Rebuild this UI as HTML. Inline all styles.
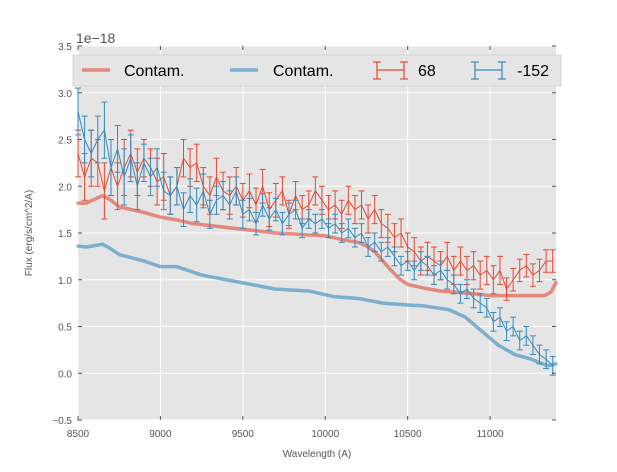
<!DOCTYPE html>
<html><head><meta charset="utf-8"><style>
body{margin:0;background:#fff;font-family:"Liberation Sans","DejaVu Sans",sans-serif}
</style></head><body>
<svg id="chart" width="617" height="467" xmlns="http://www.w3.org/2000/svg" font-family="Liberation Sans, DejaVu Sans, sans-serif">
<rect x="78" y="46" width="478" height="374" fill="#e5e5e5"/>
<g id="grid"></g>
<g id="series"></g>
<g id="axes"></g>
<text x="76" y="43" font-size="14" fill="#555">1e−18</text>
<text transform="translate(32,233) rotate(-90)" font-size="10" fill="#555" text-anchor="middle">Flux (erg/s/cm^2/A)</text>
<text x="317" y="457" font-size="10" fill="#555" text-anchor="middle">Wavelength (A)</text>
<g>
<rect x="73" y="55" width="488" height="31" fill="#e5e5e5" stroke="#d0d0d0" stroke-width="0.8"/>
<g><line x1="82" y1="70" x2="110" y2="70" stroke="#E24A33" stroke-opacity="0.6" stroke-width="3.5"/><text x="124" y="76" font-size="16">Contam.</text></g>
<g><line x1="230" y1="70" x2="258" y2="70" stroke="#348ABD" stroke-opacity="0.6" stroke-width="3.5"/><text x="273" y="76" font-size="16">Contam.</text></g>
<g stroke="#E24A33" stroke-width="1.2"><line x1="377" y1="70" x2="404" y2="70"/><line x1="377" y1="62" x2="377" y2="79"/><line x1="404" y1="62" x2="404" y2="79"/><line x1="373" y1="62" x2="381" y2="62"/><line x1="373" y1="79" x2="381" y2="79"/><line x1="400" y1="62" x2="408" y2="62"/><line x1="400" y1="79" x2="408" y2="79"/><text x="418" y="76" font-size="16" fill="#000" stroke="none">68</text></g>
<g stroke="#348ABD" stroke-width="1.2"><line x1="475" y1="70" x2="502" y2="70"/><line x1="475" y1="62" x2="475" y2="79"/><line x1="502" y1="62" x2="502" y2="79"/><line x1="471" y1="62" x2="479" y2="62"/><line x1="471" y1="79" x2="479" y2="79"/><line x1="498" y1="62" x2="506" y2="62"/><line x1="498" y1="79" x2="506" y2="79"/><text x="517" y="76" font-size="16" fill="#000" stroke="none">-152</text></g>
</g>
</svg>
<script>
const xTicks=[8500,9000,9500,10000,10500,11000];
const yTicks=[-0.5,0,0.5,1.0,1.5,2.0,2.5,3.0,3.5];
const yTickLabels=["−0.5","0.0","0.5","1.0","1.5","2.0","2.5","3.0","3.5"];
const wlStart=8500, wlStep=40;
const red68=[2.35,2.1,2.3,2.25,1.95,2.2,2.0,2.2,2.35,2.15,2.3,2.2,2.05,2.1,1.9,2.0,2.3,2.2,2.25,2.0,1.9,2.1,1.95,1.9,2.0,1.85,1.95,1.8,2.0,1.75,1.85,1.95,1.7,1.9,1.75,1.8,1.95,1.85,1.75,1.8,1.7,1.85,1.75,1.8,1.65,1.75,1.6,1.55,1.45,1.5,1.35,1.3,1.2,1.25,1.2,1.15,1.25,1.1,1.2,1.1,1.15,1.05,1.1,1.0,1.1,0.9,1.0,1.1,1.15,1.05,1.1,1.2,1.2];
const redErr=[0.25,0.25,0.3,0.25,0.3,0.3,0.25,0.3,0.25,0.25,0.2,0.2,0.25,0.25,0.2,0.2,0.2,0.2,0.2,0.2,0.2,0.2,0.2,0.2,0.2,0.18,0.18,0.18,0.18,0.18,0.18,0.15,0.15,0.15,0.15,0.15,0.15,0.15,0.15,0.15,0.15,0.15,0.15,0.15,0.15,0.15,0.15,0.15,0.15,0.15,0.15,0.15,0.15,0.15,0.15,0.15,0.15,0.15,0.15,0.15,0.15,0.15,0.15,0.15,0.15,0.12,0.12,0.12,0.12,0.12,0.12,0.12,0.12];
const blue152=[2.8,2.5,2.35,2.5,2.6,2.2,2.4,2.1,2.3,2.0,2.25,2.1,2.2,1.95,1.9,2.0,1.75,1.9,1.8,1.95,1.7,1.85,1.9,1.8,1.95,1.7,1.75,1.6,1.8,1.65,1.75,1.6,1.7,1.75,1.55,1.65,1.6,1.65,1.55,1.6,1.5,1.55,1.45,1.5,1.35,1.4,1.3,1.35,1.25,1.15,1.2,1.1,1.2,1.15,1.05,1.1,1.0,0.95,0.85,0.9,0.8,0.75,0.7,0.55,0.6,0.45,0.5,0.35,0.4,0.3,0.2,0.15,0.08];
const blueErr=[0.25,0.25,0.25,0.25,0.3,0.3,0.25,0.3,0.25,0.25,0.2,0.2,0.2,0.2,0.2,0.2,0.18,0.18,0.18,0.18,0.15,0.15,0.15,0.15,0.15,0.15,0.12,0.12,0.12,0.12,0.12,0.12,0.12,0.1,0.1,0.1,0.1,0.1,0.1,0.1,0.1,0.1,0.1,0.1,0.1,0.1,0.1,0.1,0.1,0.1,0.1,0.1,0.1,0.1,0.1,0.1,0.1,0.1,0.1,0.1,0.1,0.1,0.1,0.1,0.1,0.1,0.1,0.1,0.1,0.1,0.1,0.1,0.1];
const contamWl=[8500,8550,8600,8650,8700,8750,8900,9000,9100,9200,9450,9700,10000,10100,10200,10250,10300,10350,10400,10450,10500,10600,10700,10900,11000,11200,11330,11370,11400];
const redContam=[1.82,1.82,1.86,1.9,1.85,1.78,1.72,1.67,1.64,1.6,1.55,1.5,1.47,1.43,1.4,1.36,1.3,1.2,1.1,1.01,0.95,0.91,0.88,0.85,0.83,0.83,0.83,0.87,0.97];
const blueContamWl=[8500,8550,8650,8700,8750,8900,9000,9100,9250,9400,9550,9700,9900,10050,10200,10350,10500,10600,10750,10850,10950,11050,11150,11250,11350,11400];
const blueContam=[1.36,1.35,1.38,1.33,1.27,1.2,1.14,1.14,1.05,1.0,0.95,0.9,0.88,0.82,0.8,0.75,0.73,0.72,0.68,0.6,0.45,0.3,0.2,0.15,0.08,0.1];
const X0=78,X1=556,Y0=420,Y1=46;
const xS=v=>X0+(v-8500)*(X1-X0)/(11400-8500);
const yS=v=>Y0-(v+0.5)*(Y0-Y1)/4;
const NS="http://www.w3.org/2000/svg";
function mk(tag,attrs,parent){const e=document.createElementNS(NS,tag);for(const k in attrs)e.setAttribute(k,attrs[k]);parent.appendChild(e);return e;}
const grid=document.getElementById('grid'),axes=document.getElementById('axes'),ser=document.getElementById('series');
xTicks.forEach(t=>{const x=xS(t);
 const g=mk('line',{x1:x,x2:x,y1:Y1,y2:Y0,stroke:'#fff','stroke-width':1},grid);
 
 
 mk('line',{x1:x,x2:x,y1:Y0,y2:Y0-4,stroke:'#555'},axes);
 mk('line',{x1:x,x2:x,y1:Y1,y2:Y1+4,stroke:'#555'},axes);
 const l=mk('text',{x:x,y:Y0+17,'font-size':10,fill:'#555','text-anchor':'middle'},axes);l.textContent=t;
 
 
});
yTicks.forEach((t,i)=>{const y=yS(t);
 const g=mk('line',{x1:X0,x2:X1,y1:y,y2:y,stroke:'#fff','stroke-width':1},grid);
 
 
 mk('line',{x1:X0,x2:X0+4,y1:y,y2:y,stroke:'#555'},axes);
 mk('line',{x1:X1,x2:X1-4,y1:y,y2:y,stroke:'#555'},axes);
 const l=mk('text',{x:X0-6,y:y+4,'font-size':10,fill:'#555','text-anchor':'end'},axes);l.textContent=yTickLabels[i];
 
 
});
function line(xs,ys,color,w,op,name){
 const p=mk('polyline',{points:xs.map((x,i)=>xS(x)+','+yS(ys[i])).join(' '),fill:'none',stroke:color,'stroke-width':w,'stroke-opacity':op,'stroke-linejoin':'round','stroke-linecap':'round'},ser);
 
 
}
line(contamWl,redContam,'#E24A33',3.5,0.6,'red-contam-line');
line(blueContamWl,blueContam,'#348ABD',3.5,0.6,'blue-contam-line');
function errs(vals,err,color,name){
 const g=mk('g',{stroke:color,'stroke-width':1},ser);
 
 
 const xs=vals.map((v,i)=>wlStart+i*wlStep);
 vals.forEach((v,i)=>{const x=xS(xs[i]),a=yS(v+err[i]),b=yS(v-err[i]);
  mk('line',{x1:x,x2:x,y1:a,y2:b},g);
  mk('line',{x1:x-3,x2:x+3,y1:a,y2:a},g);
  mk('line',{x1:x-3,x2:x+3,y1:b,y2:b},g);
 });
 mk('polyline',{points:vals.map((v,i)=>xS(xs[i])+','+yS(v)).join(' '),fill:'none'},g);
}
errs(red68,redErr,'#E24A33','series-68');
errs(blue152,blueErr,'#348ABD','series-minus-152');
</script>
</body></html>
